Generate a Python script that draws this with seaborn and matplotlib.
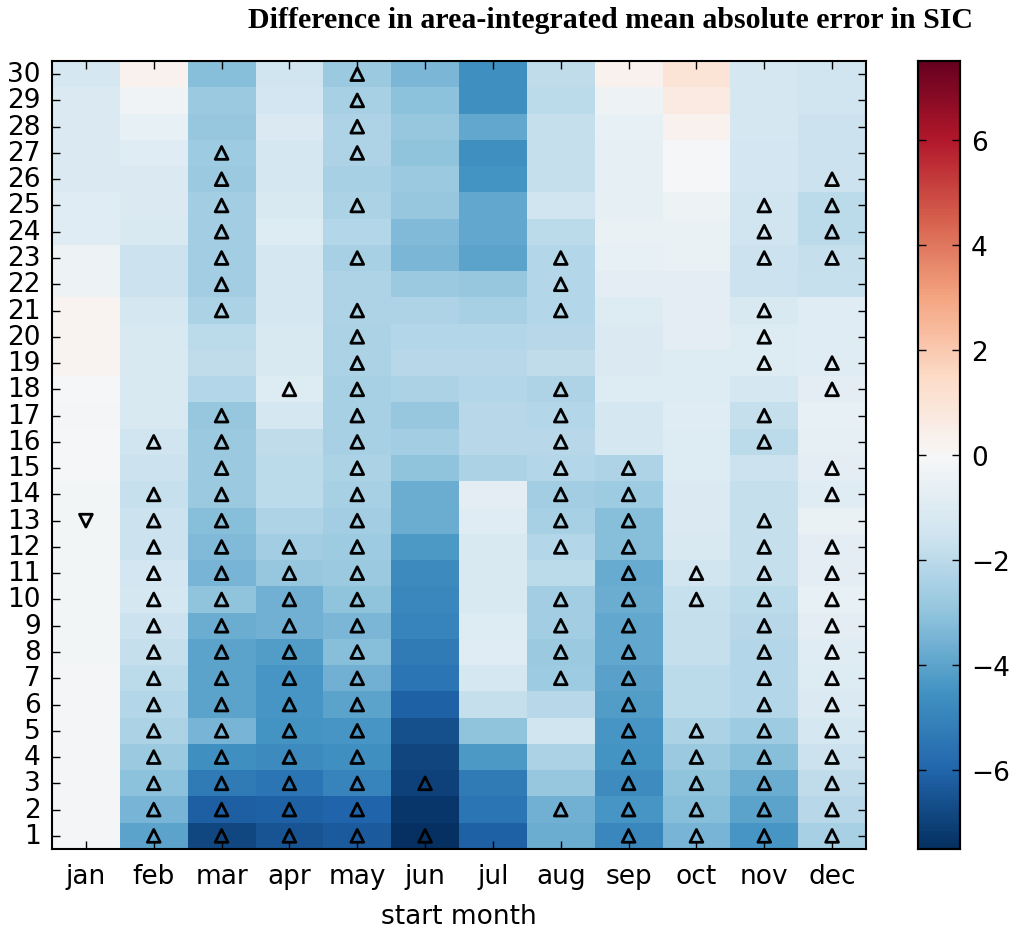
import numpy as np
import pandas as pd
import seaborn as sns
import matplotlib.pyplot as plt

months = ["jan", "feb", "mar", "apr", "may", "jun", "jul", "aug", "sep", "oct", "nov", "dec"]
lead_days = list(range(1, 31))

# difference values per start month, lead day 1 -> 30
jan = [-0.15, -0.15, -0.15, -0.15, -0.15, -0.15, -0.15, -0.2, -0.2, -0.2, -0.2, -0.2, -0.2, -0.2, -0.1,
       -0.1, -0.15, -0.1, 0.2, 0.2, 0.2, -0.4, -0.4, -0.9, -0.9, -1.1, -1.1, -1.1, -1.1, -1.3]
feb = [-4.0, -3.5, -3.1, -2.8, -2.4, -2.2, -2.0, -1.8, -1.6, -1.3, -1.4, -1.6, -1.6, -1.7, -1.6,
       -1.5, -1.2, -1.2, -1.2, -1.2, -1.3, -1.6, -1.6, -1.2, -1.1, -1.1, -0.9, -0.6, -0.3, 0.3]
mar = [-6.8, -6.2, -5.3, -4.6, -3.5, -4.0, -4.0, -4.0, -3.7, -3.0, -3.5, -3.3, -3.2, -2.8, -2.8,
       -2.8, -2.9, -2.2, -1.9, -2.0, -2.4, -2.6, -2.6, -2.6, -2.6, -2.8, -2.7, -2.9, -2.8, -3.2]
apr = [-6.5, -6.1, -5.5, -4.8, -4.5, -4.4, -4.4, -4.2, -3.6, -3.6, -2.9, -2.6, -2.3, -2.0, -2.0,
       -1.9, -1.3, -1.0, -1.2, -1.2, -1.3, -1.3, -1.3, -1.0, -1.2, -1.3, -1.3, -1.1, -1.4, -1.5]
may = [-6.3, -6.0, -5.0, -4.6, -4.4, -4.0, -3.6, -3.2, -3.4, -3.0, -2.8, -2.7, -2.6, -2.5, -2.4,
       -2.5, -2.5, -2.5, -2.4, -2.4, -2.3, -2.3, -2.5, -2.2, -2.4, -2.5, -2.3, -2.3, -2.5, -2.8]
jun = [-7.6, -7.3, -7.0, -6.9, -6.6, -6.1, -5.5, -5.3, -5.0, -4.9, -4.8, -4.3, -3.7, -3.7, -3.0,
       -2.6, -2.9, -2.4, -2.1, -2.2, -2.3, -2.8, -3.4, -3.3, -2.9, -2.8, -3.0, -2.9, -3.1, -3.4]
jul = [-6.1, -5.5, -5.3, -4.3, -3.0, -1.8, -1.3, -0.9, -1.0, -1.2, -1.2, -1.2, -0.9, -0.8, -2.4,
       -2.1, -2.1, -2.2, -2.1, -2.2, -2.5, -2.9, -4.0, -3.9, -3.9, -4.5, -4.6, -3.9, -4.6, -4.6]
aug = [-3.7, -3.6, -2.9, -2.4, -1.5, -2.1, -2.7, -2.8, -2.6, -2.6, -2.0, -2.2, -2.5, -2.6, -2.2,
       -2.1, -2.2, -2.3, -1.9, -2.1, -2.2, -2.2, -2.2, -2.0, -1.5, -1.8, -1.8, -1.8, -2.0, -1.9]
sep = [-4.9, -4.4, -4.7, -4.5, -4.4, -4.2, -4.1, -3.9, -3.9, -3.7, -3.8, -3.2, -3.2, -2.7, -2.3,
       -1.3, -1.3, -1.0, -1.1, -1.1, -1.0, -0.8, -0.6, -0.5, -0.7, -0.7, -0.7, -0.6, -0.4, 0.3]
oct = [-3.5, -3.2, -3.0, -2.8, -2.4, -2.0, -2.0, -1.8, -1.8, -1.7, -1.5, -1.2, -1.1, -1.1, -1.0,
       -1.0, -0.9, -1.0, -1.0, -0.8, -0.8, -0.8, -0.5, -0.5, -0.4, -0.1, -0.1, 0.3, 0.7, 1.0]
nov = [-4.4, -4.0, -3.7, -3.2, -2.7, -2.2, -2.2, -2.2, -2.1, -2.0, -1.8, -1.8, -1.8, -1.8, -1.6,
       -2.0, -1.8, -1.3, -1.0, -1.0, -1.2, -1.6, -1.6, -1.5, -1.5, -1.4, -1.4, -1.3, -1.3, -1.3]
dec = [-2.5, -2.1, -1.9, -1.6, -1.3, -1.1, -1.0, -0.9, -0.8, -0.6, -0.8, -0.8, -0.5, -0.9, -0.8,
       -0.7, -0.6, -0.8, -0.9, -0.9, -0.9, -1.7, -1.8, -2.0, -2.0, -1.6, -1.6, -1.6, -1.5, -1.5]

# lead days with a significant improvement (up triangle) / degradation (down triangle)
sig_up = {
    "feb": list(range(1, 15)) + [16],
    "mar": list(range(1, 18)) + list(range(21, 28)),
    "apr": list(range(1, 13)) + [18],
    "may": list(range(1, 22)) + [23, 25, 27, 28, 29, 30],
    "jun": [1, 3],
    "aug": [2, 7, 8, 9, 10, 12, 13, 14, 15, 16, 17, 18, 21, 22, 23],
    "sep": list(range(1, 16)),
    "oct": [1, 2, 3, 4, 5, 10, 11],
    "nov": list(range(1, 14)) + [16, 17, 19, 20, 21, 23, 24, 25],
    "dec": list(range(1, 13)) + [14, 15, 18, 19, 23, 24, 25, 26],
}
sig_down = {"jan": [13]}

df = pd.DataFrame(dict(zip(months, [jan, feb, mar, apr, may, jun, jul, aug, sep, oct, nov, dec])),
                  index=lead_days)
df = df.iloc[::-1]  # lead day 30 at the top

fig = plt.figure(figsize=(10.09, 9.29), dpi=100)
ax = fig.add_axes([52 / 1009, 1 - 850 / 929, 814 / 1009, 788 / 929])
cax = fig.add_axes([918 / 1009, 1 - 850 / 929, 42 / 1009, 788 / 929])

sns.heatmap(df, ax=ax, cbar_ax=cax, cmap="RdBu_r", vmin=-7.5, vmax=7.5)

# significance markers, placed in heatmap cell coordinates
nrows = len(lead_days)
for j, m in enumerate(months):
    ups = sig_up.get(m, [])
    downs = sig_down.get(m, [])
    if ups:
        ax.scatter([j + 0.5] * len(ups), [nrows - d + 0.5 for d in ups], marker="^",
                   s=85, facecolors="none", edgecolors="k", linewidths=2, zorder=5)
    if downs:
        ax.scatter([j + 0.5] * len(downs), [nrows - d + 0.5 for d in downs], marker="v",
                   s=85, facecolors="none", edgecolors="k", linewidths=2, zorder=5)

ax.set_xticks(np.arange(len(months)) + 0.5)
ax.set_xticklabels(months, rotation=0, fontsize=19)
ax.set_yticks(np.arange(nrows) + 0.5)
ax.set_yticklabels([str(d) for d in df.index], rotation=0, fontsize=19)
ax.set_xlabel("start month", fontsize=19, labelpad=10)
ax.set_ylabel("")
ax.tick_params(direction="in", length=6, width=1, top=True, right=True)
ax.xaxis.set_tick_params(pad=10)
ax.yaxis.set_tick_params(pad=8)
for s in ax.spines.values():
    s.set_visible(True)
    s.set_linewidth(1.5)

cax.set_yticks([-6, -4, -2, 0, 2, 4, 6])
cax.tick_params(labelsize=19, direction="in", length=6, width=1, left=True, right=True, pad=8)
for s in cax.spines.values():
    s.set_visible(True)
    s.set_linewidth(1.5)

fig.text(610 / 1009, 1 - 21 / 929, "Difference in area-integrated mean absolute error in SIC",
         ha="center", va="center", fontsize=21.5, fontweight="bold", family="Liberation Serif")

fig.savefig("out.png", dpi=100)
